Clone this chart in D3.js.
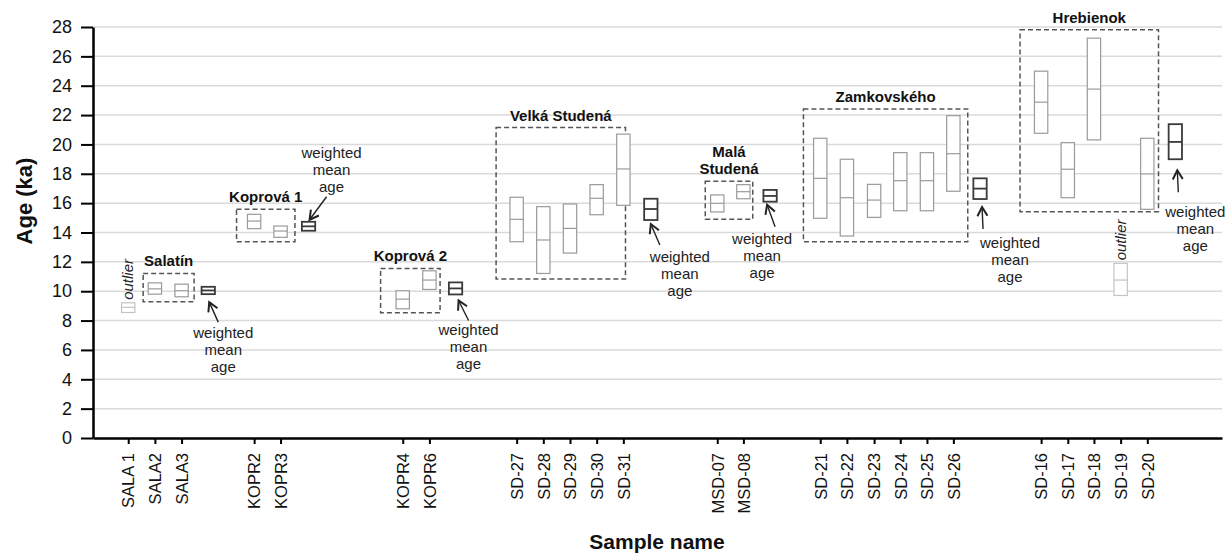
<!DOCTYPE html>
<html>
<head>
<meta charset="utf-8">
<script src="https://cdn.jsdelivr.net/npm/d3@7"></script>
<style>
  body { margin: 0; background: #fff; }
  text { font-family: "Liberation Sans", Arial, sans-serif; }
</style>
</head>
<body>
<svg id="chart" width="1231" height="559"></svg>
<script>
"use strict"

// sample names, slot position along the x axis, and age range (ka)
var samples   = ["SALA 1","SALA2","SALA3","KOPR2","KOPR3","KOPR4","KOPR6",
                 "SD-27","SD-28","SD-29","SD-30","SD-31","MSD-07","MSD-08",
                 "SD-21","SD-22","SD-23","SD-24","SD-25","SD-26",
                 "SD-16","SD-17","SD-18","SD-19","SD-20"];
var samplePos = [0, 1, 2, 4.72, 5.71, 10.29, 11.29,
                 14.56, 15.56, 16.56, 17.56, 18.56, 22.08, 23.06,
                 25.94, 26.94, 27.96, 28.94, 29.94, 30.93,
                 34.22, 35.22, 36.2, 37.2, 38.2];
var ageLow    = [8.55, 9.80, 9.62, 14.26, 13.67, 8.80, 10.12,
                 13.37, 11.21, 12.60, 15.21, 15.85, 15.40, 16.30,
                 14.97, 13.76, 15.03, 15.48, 15.48, 16.81,
                 20.76, 16.37, 20.31, 9.71, 15.58];
var ageMid    = [8.90, 10.16, 10.03, 14.78, 14.10, 9.46, 10.76,
                 14.90, 13.49, 14.28, 16.33, 18.33, 15.99, 16.78,
                 17.69, 16.37, 16.21, 17.53, 17.53, 19.37,
                 22.88, 18.31, 23.77, 10.76, 17.99];
var ageHigh   = [9.21, 10.57, 10.48, 15.24, 14.44, 10.03, 11.39,
                 16.40, 15.76, 15.94, 17.26, 20.70, 16.56, 17.26,
                 20.42, 18.99, 17.28, 19.44, 19.44, 21.96,
                 24.99, 20.12, 27.24, 11.90, 20.42];
var outliers  = ["SALA 1", "SD-19"];

// sites: weighted mean age and the frame drawn round the samples used
var groups    = ["Salatín","Koprová 1","Koprová 2","Velká Studená","Malá\nStudená","Zamkovského","Hrebienok"];
var wmPos     = [3, 6.76, 12.27, 19.59, 24.06, 31.93, 39.25];
var wmLow     = [9.80, 14.12, 9.78, 14.85, 16.10, 16.28, 18.99];
var wmMid     = [10.05, 14.42, 10.19, 15.60, 16.49, 16.99, 20.17];
var wmHigh    = [10.30, 14.73, 10.60, 16.30, 16.90, 17.69, 21.38];
var frameX0   = [0.56, 4.06, 9.46, 13.79, 21.63, 25.31, 33.43];
var frameX1   = [2.47, 6.25, 11.69, 18.64, 23.41, 31.47, 38.62];
var frameY0   = [9.28, 13.37, 8.53, 10.83, 14.90, 13.37, 15.42];
var frameY1   = [11.21, 15.58, 11.55, 21.15, 17.49, 22.42, 27.81];

var yTicks = d3.range(0, 29, 2);

// where each "weighted mean age" note sits, in pixels from its box
var noteLayout = [
  {above: false, dx: 15, gap: 44,   tail: [10, 28],   tip: [1, 8]},
  {above: true,  dx: 23, gap: 30,   tail: [18, 25],   tip: [1, 2]},
  {above: false, dx: 13, gap: 41,   tail: [13, 26],   tip: [3, 6]},
  {above: false, dx: 29, gap: 42,   tail: [9, 25],    tip: [0, 4]},
  {above: false, dx: -8, gap: 42,   tail: [5, 25],    tip: [-3, 3]},
  {above: false, dx: 30, gap: 49,   tail: [3, 30],    tip: [2, 8]},
  {above: false, dx: 20, gap: 58,   tail: [3, 33],    tip: [2, 11]}
];

var svg = d3.select("#chart");

var x = d3.scaleLinear().domain([-1.32, 41.0]).range([93, 1222]);
var y = d3.scaleLinear().domain([0, 28]).range([438, 27]);
var boxW = x(0.5) - x(0);

svg.append("defs").append("marker")
  .attr("id", "arrow")
  .attr("viewBox", "-1 -6 12 12")
  .attr("refX", 9).attr("refY", 0)
  .attr("markerWidth", 12).attr("markerHeight", 12)
  .attr("markerUnits", "userSpaceOnUse")
  .attr("orient", "auto")
  .append("path")
  .attr("d", "M0,-5L9,0L0,5")
  .attr("fill", "none")
  .attr("stroke", "#222")
  .attr("stroke-width", 2);

// gridlines
svg.append("g").selectAll("line")
  .data(yTicks.filter(function(d){ return d > 0; }))
  .enter().append("line")
  .attr("x1", x.range()[0]).attr("x2", x.range()[1])
  .attr("y1", function(d){ return y(d); })
  .attr("y2", function(d){ return y(d); })
  .attr("stroke", "#dadada")
  .attr("stroke-width", 1.5);

// dashed frames round each site
svg.append("g").selectAll("rect")
  .data(groups)
  .enter().append("rect")
  .attr("x", function(d, i){ return x(frameX0[i]); })
  .attr("y", function(d, i){ return y(frameY1[i]); })
  .attr("width", function(d, i){ return x(frameX1[i]) - x(frameX0[i]); })
  .attr("height", function(d, i){ return y(frameY0[i]) - y(frameY1[i]); })
  .attr("fill", "none")
  .attr("stroke", "#555")
  .attr("stroke-width", 1.5)
  .attr("stroke-dasharray", "5,3");

function drawBoxes(cls, pos, lo, mid, hi, colour, width) {
  var g = svg.append("g").attr("class", cls).selectAll("g")
    .data(pos).enter().append("g");
  g.append("rect")
    .attr("x", function(d){ return x(d) - boxW / 2; })
    .attr("y", function(d, i){ return y(hi[i]); })
    .attr("width", boxW)
    .attr("height", function(d, i){ return y(lo[i]) - y(hi[i]); })
    .attr("fill", "#fff")
    .attr("stroke", colour)
    .attr("stroke-width", width);
  g.append("line")
    .attr("x1", function(d){ return x(d) - boxW / 2; })
    .attr("x2", function(d){ return x(d) + boxW / 2; })
    .attr("y1", function(d, i){ return y(mid[i]); })
    .attr("y2", function(d, i){ return y(mid[i]); })
    .attr("stroke", colour)
    .attr("stroke-width", width);
  return g;
}

var sampleColour = function(d, i){
  return outliers.indexOf(samples[i]) >= 0 ? "#c4c4c4" : "#9a9a9a";
};
drawBoxes("samples", samplePos, ageLow, ageMid, ageHigh, sampleColour, 1.2);
drawBoxes("means", wmPos, wmLow, wmMid, wmHigh, "#3a3a3a", 1.8);

// axes
var yAxis = svg.append("g")
  .attr("transform", "translate(" + x.range()[0] + ",0)")
  .call(d3.axisLeft(y).tickValues(yTicks).tickSize(12).tickSizeOuter(0).tickPadding(9));
var xAxis = svg.append("g")
  .attr("transform", "translate(0," + y(0) + ")")
  .call(d3.axisBottom(x).tickValues(samplePos)
        .tickFormat(function(d, i){ return samples[i]; })
        .tickSize(6).tickSizeOuter(0));

[yAxis, xAxis].forEach(function(ax){
  ax.select(".domain").attr("stroke", "#000").attr("stroke-width", 2.5);
  ax.selectAll(".tick line").attr("stroke", "#000").attr("stroke-width", 2);
  ax.selectAll(".tick text").attr("fill", "#111").style("font-size", "18px")
    .style("font-family", "'Liberation Sans', Arial, sans-serif");
});
xAxis.selectAll(".tick text")
  .attr("transform", "rotate(-90)")
  .attr("x", -15).attr("y", 0).attr("dy", "0.35em")
  .style("text-anchor", "end")
  .style("font-size", "16.5px");

svg.append("text")
  .attr("transform", "translate(32,201) rotate(-90)")
  .attr("text-anchor", "middle")
  .style("font-size", "22px").style("font-weight", "bold").attr("fill", "#111")
  .text("Age (ka)");
svg.append("text")
  .attr("x", 657).attr("y", 549)
  .attr("text-anchor", "middle")
  .style("font-size", "21px").style("font-weight", "bold").attr("fill", "#111")
  .text("Sample name");

// site names above the frames
groups.forEach(function(name, i){
  var lines = name.split("\n");
  var cx = (x(frameX0[i]) + x(frameX1[i])) / 2;
  var t = svg.append("text")
    .attr("text-anchor", "middle")
    .style("font-size", "15px").style("font-weight", "bold").attr("fill", "#111");
  lines.forEach(function(l, j){
    t.append("tspan")
      .attr("x", cx)
      .attr("y", y(frameY1[i]) - 7 - (lines.length - 1 - j) * 17.5)
      .text(l);
  });
});

// "outlier" tags
outliers.forEach(function(name){
  var i = samples.indexOf(name);
  svg.append("text")
    .attr("transform", "translate(" + x(samplePos[i]) + "," + (y(ageHigh[i]) - 3) + ") rotate(-90)")
    .attr("dy", "0.35em")
    .style("font-size", "15px").style("font-style", "italic").attr("fill", "#222")
    .text("outlier");
});

// weighted mean notes with arrows
groups.forEach(function(name, i){
  var L = noteLayout[i];
  var cx = x(wmPos[i]);
  var yt = y(wmHigh[i]), yb = y(wmLow[i]);
  var words = ["weighted", "mean", "age"];
  var t = svg.append("text")
    .attr("text-anchor", "middle")
    .style("font-size", "15px").attr("fill", "#222");
  words.forEach(function(w, j){
    var by = L.above ? yt - L.gap - (2 - j) * 17 : yb + L.gap + j * 17;
    t.append("tspan").attr("x", cx + L.dx).attr("y", by).text(w);
  });
  var ty = L.above ? yt - L.tail[1] : yb + L.tail[1];
  var hy = L.above ? yt - L.tip[1] : yb + L.tip[1];
  svg.append("line")
    .attr("x1", cx + L.tail[0]).attr("y1", ty)
    .attr("x2", cx + L.tip[0]).attr("y2", hy)
    .attr("stroke", "#222").attr("stroke-width", 1.4)
    .attr("marker-end", "url(#arrow)");
});
</script>
</body>
</html>
